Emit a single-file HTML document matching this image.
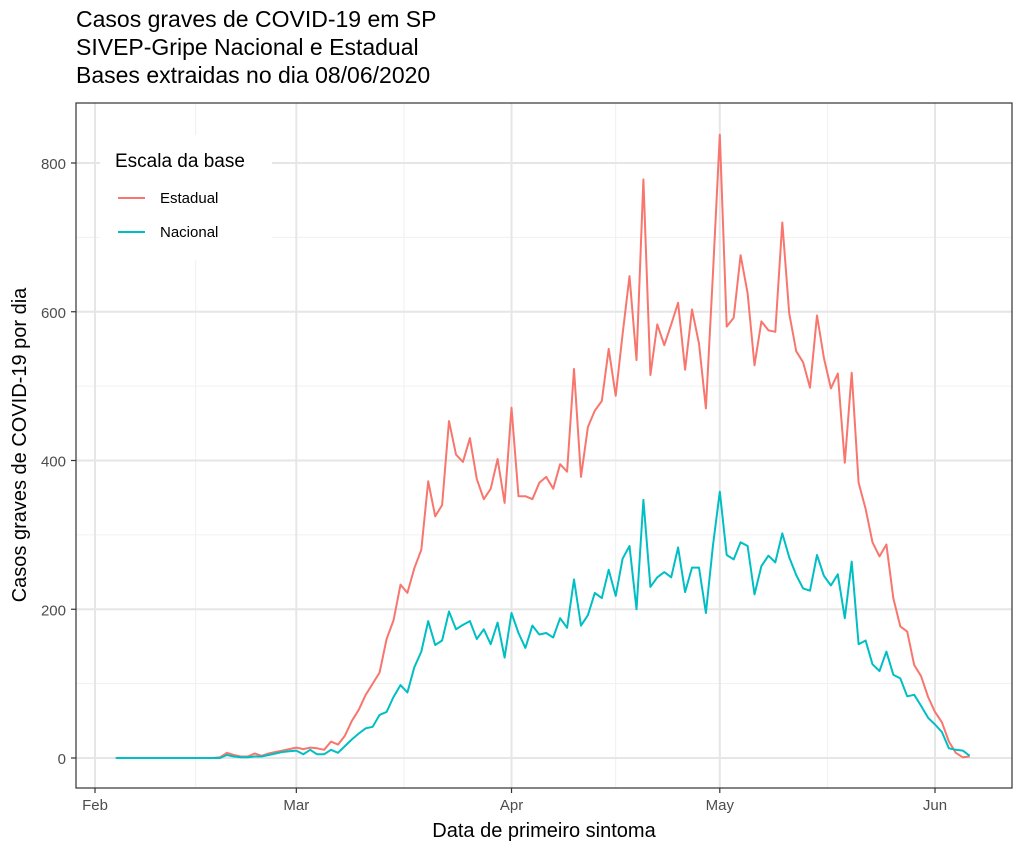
<!DOCTYPE html>
<html><head><meta charset="utf-8"><style>
body{margin:0;background:#fff;}
svg{display:block;font-family:"Liberation Sans",sans-serif;}
</style></head><body>
<svg id="chart" width="1024" height="853" viewBox="0 0 1024 853">
<g font-size="23" fill="#000">
<text x="76" y="27">Casos graves de COVID-19 em SP</text>
<text x="76" y="55">SIVEP-Gripe Nacional e Estadual</text>
<text x="76" y="83">Bases extraidas no dia 08/06/2020</text>
</g>
<rect x="76" y="103" width="936" height="685" fill="#fff"/>
<g id="grid"></g>
<g id="series"></g>
<rect x="76" y="103" width="936" height="685" fill="none" stroke="#333" stroke-width="1.2"/>
<g id="axes"></g>
<text x="544" y="837" font-size="20" text-anchor="middle">Data de primeiro sintoma</text>
<text transform="translate(26,445) rotate(-90)" font-size="20" text-anchor="middle">Casos graves de COVID-19 por dia</text>
<g>
<rect x="100" y="135" width="172" height="125" fill="#fff"/>
<text x="115" y="167" font-size="19">Escala da base</text>
<line x1="118" y1="198" x2="145" y2="198" stroke="#F8766D" stroke-width="2"/>
<text x="160" y="203" font-size="15">Estadual</text>
<line x1="118" y1="232" x2="145" y2="232" stroke="#00BFC4" stroke-width="2"/>
<text x="160" y="237" font-size="15">Nacional</text>
</g>
</svg>
<script>
const startDay = 3; // Feb 4 = day offset 3 from Feb 1
const estadual = [0,0,0,0,0,0,0,0,0,0,0,0,0,0,0,1,7,4,2,2,6,3,6,8,10,12,
14,12,14,13,11,22,18,30,50,65,85,100,115,160,185,233,222,255,280,372,325,340,453,408,398,430,375,348,362,402,343,
471,352,352,348,370,378,362,395,385,523,378,445,467,480,550,487,570,648,535,778,515,583,555,583,612,522,603,557,470,650,
838,580,592,676,625,528,587,575,573,720,598,547,532,498,595,538,497,517,397,518,370,335,290,271,287,215,177,170,125,110,82,
62,48,22,7,1,2];
const nacional = [0,0,0,0,0,0,0,0,0,0,0,0,0,0,0,0,4,2,1,1,2,2,4,6,8,9,
10,5,11,5,5,11,7,16,25,33,40,42,58,62,82,98,88,122,143,184,152,158,197,173,179,184,160,173,153,182,135,
195,168,148,178,166,168,162,188,175,240,178,192,222,215,253,218,268,285,200,347,230,243,250,243,283,223,256,256,195,285,
358,273,267,290,285,220,258,272,263,302,270,246,228,225,273,245,232,247,188,264,153,158,126,117,143,112,107,83,85,70,54,
45,35,13,11,10,3];
const yTicks = [0,200,400,600,800];
const yMinor = [100,300,500,700];
const xTickLabels = ["Feb","Mar","Apr","May","Jun"];
const xTickDays = [0,29,60,90,121];
const xMinorDays = [14.5,44.5,75,105.5];
const NS="http://www.w3.org/2000/svg";
const x = d => 95 + d*(840/121);
const y = v => 758 - v*(595/800);
function mk(tag, attrs, parent){const e=document.createElementNS(NS,tag);for(const k in attrs)e.setAttribute(k,attrs[k]);parent.appendChild(e);return e;}
const grid=document.getElementById('grid'), axes=document.getElementById('axes'), ser=document.getElementById('series');
yMinor.forEach(v=>{const l=mk('line',{x1:76,x2:1012,y1:y(v),y2:y(v),stroke:'#f0f0f0','stroke-width':1},grid);

});
xMinorDays.forEach(d=>{const l=mk('line',{x1:x(d),x2:x(d),y1:103,y2:788,stroke:'#f0f0f0','stroke-width':1},grid);

});
yTicks.forEach(v=>{const l=mk('line',{x1:76,x2:1012,y1:y(v),y2:y(v),stroke:'#e6e6e6','stroke-width':2},grid);


const t=mk('line',{x1:71,x2:76,y1:y(v),y2:y(v),stroke:'#333','stroke-width':1.2},axes);


const tx=mk('text',{x:66,y:y(v)+6,'font-size':15,fill:'#4d4d4d','text-anchor':'end'},axes);tx.textContent=v;

});
xTickDays.forEach((d,i)=>{const l=mk('line',{x1:x(d),x2:x(d),y1:103,y2:788,stroke:'#e6e6e6','stroke-width':2},grid);


const t=mk('line',{x1:x(d),x2:x(d),y1:788,y2:793,stroke:'#333','stroke-width':1.2},axes);


const tx=mk('text',{x:x(d),y:810,'font-size':15,fill:'#4d4d4d','text-anchor':'middle'},axes);tx.textContent=xTickLabels[i];

});
function line(data,color,name){const pts=data.map((v,i)=>x(startDay+i).toFixed(1)+','+y(v).toFixed(1)).join(' ');
const p=mk('polyline',{points:pts,fill:'none',stroke:color,'stroke-width':2,'stroke-linejoin':'round'},ser);

}
line(estadual,'#F8766D','estadual-line');
line(nacional,'#00BFC4','nacional-line');
</script>
</body></html>
